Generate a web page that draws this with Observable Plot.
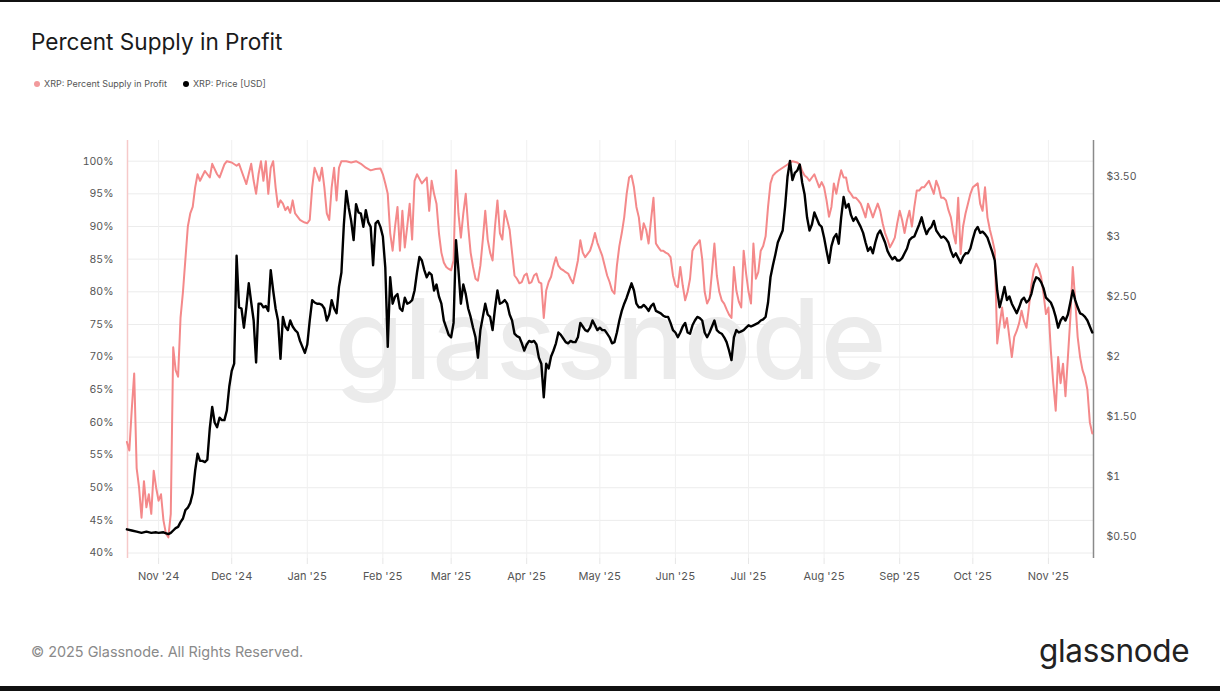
<!DOCTYPE html>
<html>
<head>
<meta charset="utf-8">
<script src="https://cdn.jsdelivr.net/npm/d3@7"></script>
<script src="https://cdn.jsdelivr.net/npm/@observablehq/plot@0.6"></script>
<style>
  html, body { margin: 0; padding: 0; background: #fff; }
  #wrap { position: relative; width: 1220px; height: 691px; overflow: hidden; font-family: Inter, Roboto, "Noto Sans", sans-serif; }
  #topbar { position: absolute; left: 0; top: 0; width: 1220px; height: 2px; background: #111; }
  #botbar { position: absolute; left: 0; bottom: 0; width: 1220px; height: 5px; background: #111; }
  #title { position: absolute; left: 31px; top: 28px; font-size: 22.6px; color: #1a1a1a; font-weight: 400; letter-spacing: 0; }
  #legend { position: absolute; left: 34px; top: 78px; font-size: 9px; color: #555; display: flex; gap: 16px; }
  #legend span.item { display: flex; align-items: center; gap: 4px; }
  #legend i { display: inline-block; width: 6px; height: 6px; border-radius: 50%; }
  #chart { position: absolute; left: 0; top: 120px; }
  #footer { position: absolute; left: 31px; top: 643px; font-size: 14.4px; color: #8a8a8a; }
  #logo { position: absolute; left: 1039px; top: 631px; font-size: 31.5px; color: #222; font-weight: 400; letter-spacing: -0.3px; }
</style>
</head>
<body>
<div id="wrap">
  <div id="topbar"></div>
  <div id="title">Percent Supply in Profit</div>
  <div id="legend"></div>
  <div id="chart"></div>
  <div id="footer">© 2025 Glassnode. All Rights Reserved.</div>
  <div id="logo">glassnode</div>
  <div id="botbar"></div>
</div>
<script>
// ---- Series names & colours ----
const seriesNames = ["XRP: Percent Supply in Profit", "XRP: Price [USD]"];
const seriesColors = ["#f4898a", "#000000"];

// ---- XRP: Percent Supply in Profit (%) ----
const pctData = [
["2024-10-19",57],["2024-10-20",55.7],["2024-10-21",62],["2024-10-22",67.5],["2024-10-23",53],["2024-10-24",50],["2024-10-25",45.4],["2024-10-26",51],["2024-10-27",47],["2024-10-28",49],["2024-10-29",46],["2024-10-30",52.6],["2024-10-31",50],
["2024-11-01",48],["2024-11-02",49],["2024-11-03",45],["2024-11-04",43],["2024-11-05",42.4],["2024-11-06",46],["2024-11-07",71.5],["2024-11-08",68],["2024-11-09",67],["2024-11-10",76],["2024-11-11",80],["2024-11-12",85],["2024-11-13",90],["2024-11-14",92],["2024-11-15",93],["2024-11-16",96],["2024-11-17",98],["2024-11-18",97],["2024-11-20",98.5],["2024-11-22",97.5],["2024-11-23",99.6],["2024-11-25",98],["2024-11-26",97.5],["2024-11-28",99.5],["2024-11-29",100],
["2024-12-01",99.8],["2024-12-03",99.3],["2024-12-04",99.6],["2024-12-06",97.5],["2024-12-07",96.5],["2024-12-09",99.6],["2024-12-10",97],["2024-12-11",95],["2024-12-12",98],["2024-12-13",100],["2024-12-14",97],["2024-12-15",100],["2024-12-16",95],["2024-12-17",99],["2024-12-18",100],["2024-12-19",96],["2024-12-20",93],["2024-12-21",94],["2024-12-22",93.5],["2024-12-23",92.5],["2024-12-24",93],["2024-12-25",92.1],["2024-12-26",94],["2024-12-27",92],["2024-12-28",91.5],["2024-12-29",91],["2024-12-30",90.8],["2024-12-31",90.6],
["2025-01-01",90.5],["2025-01-02",91],["2025-01-03",96],["2025-01-04",99],["2025-01-05",98],["2025-01-06",97],["2025-01-07",99],["2025-01-08",96],["2025-01-09",92],["2025-01-10",91],["2025-01-11",96],["2025-01-12",99],["2025-01-13",94],["2025-01-14",99],["2025-01-15",100],["2025-01-17",100],["2025-01-19",99.8],["2025-01-21",100],["2025-01-23",99.6],["2025-01-25",99],["2025-01-27",98.6],["2025-01-29",98.8],["2025-01-31",98.9],
["2025-02-01",98],["2025-02-02",96.6],["2025-02-03",95],["2025-02-04",89],["2025-02-05",86.3],["2025-02-06",90],["2025-02-07",93],["2025-02-08",86.3],["2025-02-09",92.4],["2025-02-10",86.8],["2025-02-11",90],["2025-02-12",93.5],["2025-02-13",88],["2025-02-14",97],["2025-02-15",98],["2025-02-17",96.6],["2025-02-19",97.5],["2025-02-20",92.4],["2025-02-21",97],["2025-02-22",95],["2025-02-23",93.5],["2025-02-24",89],["2025-02-25",86],["2025-02-26",84.5],["2025-02-27",83.8],["2025-02-28",83.5],
["2025-03-01",83.3],["2025-03-02",84.8],["2025-03-03",98.6],["2025-03-04",92],["2025-03-05",88.3],["2025-03-06",92],["2025-03-07",95],["2025-03-08",90],["2025-03-09",86],["2025-03-10",83.8],["2025-03-11",82],["2025-03-12",81.7],["2025-03-13",84],["2025-03-14",88],["2025-03-15",92.4],["2025-03-16",88],["2025-03-17",86],["2025-03-18",84.8],["2025-03-19",90],["2025-03-20",94],["2025-03-21",89],["2025-03-22",88],["2025-03-23",92.4],["2025-03-24",91],["2025-03-25",89.5],["2025-03-26",86],["2025-03-27",82.5],["2025-03-28",82],["2025-03-29",81.3],["2025-03-30",81.5],["2025-03-31",82.5],
["2025-04-01",82.8],["2025-04-02",81.3],["2025-04-03",81.5],["2025-04-04",82.5],["2025-04-05",82.8],["2025-04-06",81.5],["2025-04-07",81.3],["2025-04-08",76],["2025-04-09",80.2],["2025-04-10",81.5],["2025-04-11",82.3],["2025-04-12",84],["2025-04-13",85.3],["2025-04-14",84],["2025-04-15",83.5],["2025-04-16",83.3],["2025-04-17",83],["2025-04-18",82.8],["2025-04-19",82],["2025-04-20",81.3],["2025-04-21",83],["2025-04-22",84.8],["2025-04-23",87.9],["2025-04-24",86],["2025-04-25",85.3],["2025-04-26",85.8],["2025-04-27",86.3],["2025-04-28",87.5],["2025-04-29",89],["2025-04-30",87.5],
["2025-05-01",86.5],["2025-05-02",85.5],["2025-05-03",84],["2025-05-04",82.5],["2025-05-05",81.5],["2025-05-06",80.2],["2025-05-07",79.7],["2025-05-08",84],["2025-05-09",87],["2025-05-10",89],["2025-05-11",91.4],["2025-05-12",95],["2025-05-13",97.5],["2025-05-14",97.8],["2025-05-15",96],["2025-05-16",93],["2025-05-17",91.4],["2025-05-18",88],["2025-05-19",90.5],["2025-05-20",89.5],["2025-05-21",87.4],["2025-05-22",91],["2025-05-23",94.4],["2025-05-24",87.4],["2025-05-25",86.8],["2025-05-26",86.3],["2025-05-27",86.3],["2025-05-28",86],["2025-05-29",85.8],["2025-05-30",85.3],["2025-05-31",82.5],
["2025-06-01",81],["2025-06-02",80.7],["2025-06-03",83.8],["2025-06-04",81],["2025-06-05",78.7],["2025-06-06",80],["2025-06-07",82],["2025-06-08",86.3],["2025-06-09",87],["2025-06-10",87.4],["2025-06-11",87.9],["2025-06-12",85],["2025-06-13",80],["2025-06-14",78.2],["2025-06-15",79],["2025-06-16",83],["2025-06-17",87.4],["2025-06-18",82.5],["2025-06-19",80],["2025-06-20",78.7],["2025-06-21",78.2],["2025-06-22",77.3],["2025-06-23",76.5],["2025-06-24",76],["2025-06-25",83.8],["2025-06-26",80.2],["2025-06-27",78.5],["2025-06-28",77.6],["2025-06-29",86.3],["2025-06-30",82.8],
["2025-07-01",80],["2025-07-02",78.2],["2025-07-03",87.4],["2025-07-04",82],["2025-07-05",83],["2025-07-06",86.3],["2025-07-07",87],["2025-07-08",88.5],["2025-07-09",93],["2025-07-10",96.6],["2025-07-11",97.8],["2025-07-12",98.2],["2025-07-13",98.5],["2025-07-15",99],["2025-07-17",99.5],["2025-07-18",99.8],["2025-07-19",100],["2025-07-21",99.8],["2025-07-22",99.5],["2025-07-23",98.5],["2025-07-24",97.8],["2025-07-25",97.5],["2025-07-26",97],["2025-07-27",97.5],["2025-07-28",98],["2025-07-29",97],["2025-07-30",96],["2025-07-31",96.8],
["2025-08-01",96],["2025-08-02",94],["2025-08-03",91.5],["2025-08-04",93],["2025-08-05",96.6],["2025-08-06",95],["2025-08-07",97],["2025-08-08",98.6],["2025-08-09",97.5],["2025-08-10",97.5],["2025-08-11",95.5],["2025-08-12",95],["2025-08-13",94.4],["2025-08-14",94.4],["2025-08-15",94],["2025-08-16",93.5],["2025-08-17",92.5],["2025-08-18",91.4],["2025-08-19",93.5],["2025-08-20",92.5],["2025-08-21",91.4],["2025-08-22",92.5],["2025-08-23",93.5],["2025-08-24",92.4],["2025-08-25",90.5],["2025-08-26",89],["2025-08-27",88],["2025-08-28",86.8],["2025-08-29",87.5],["2025-08-30",88.3],["2025-08-31",90.5],
["2025-09-01",92.4],["2025-09-02",91],["2025-09-03",89],["2025-09-04",91],["2025-09-05",92.4],["2025-09-06",90],["2025-09-07",93],["2025-09-08",95.5],["2025-09-09",95.5],["2025-09-10",96],["2025-09-11",96],["2025-09-12",96.5],["2025-09-13",97],["2025-09-14",96],["2025-09-15",95],["2025-09-16",97],["2025-09-17",96],["2025-09-18",94.4],["2025-09-19",94.4],["2025-09-20",94],["2025-09-21",92.5],["2025-09-22",91.4],["2025-09-23",89],["2025-09-24",87.4],["2025-09-25",94.4],["2025-09-26",85.8],["2025-09-27",90],["2025-09-28",92],["2025-09-29",93.5],["2025-09-30",95],
["2025-10-01",96],["2025-10-02",96.3],["2025-10-03",96.6],["2025-10-04",93.5],["2025-10-05",92.4],["2025-10-06",96],["2025-10-07",91.4],["2025-10-08",89.5],["2025-10-09",88],["2025-10-10",86.3],["2025-10-11",72.1],["2025-10-12",75],["2025-10-13",77.6],["2025-10-14",74.5],["2025-10-15",76],["2025-10-16",73],["2025-10-17",70],["2025-10-18",73.1],["2025-10-19",74],["2025-10-20",75.2],["2025-10-21",77.1],["2025-10-22",75.5],["2025-10-23",74.5],["2025-10-24",77.6],["2025-10-25",81],["2025-10-26",83.3],["2025-10-27",84.3],["2025-10-28",83.5],["2025-10-29",82.3],["2025-10-30",79.7],["2025-10-31",76.6],
["2025-11-01",77.6],["2025-11-02",71],["2025-11-03",66],["2025-11-04",61.8],["2025-11-05",70],["2025-11-06",66],["2025-11-07",69],["2025-11-08",64],["2025-11-09",70],["2025-11-10",76],["2025-11-11",83.8],["2025-11-12",78.7],["2025-11-13",73.1],["2025-11-14",70],["2025-11-15",68],["2025-11-16",66.9],["2025-11-17",65],["2025-11-18",60],["2025-11-19",58.3]
];

// ---- XRP: Price [USD] ----
const priceData = [
["2024-10-19",0.56],["2024-10-21",0.55],["2024-10-23",0.54],["2024-10-25",0.53],["2024-10-27",0.54],["2024-10-29",0.53],["2024-10-31",0.535],
["2024-11-01",0.53],["2024-11-03",0.535],["2024-11-05",0.52],["2024-11-06",0.53],["2024-11-07",0.55],["2024-11-08",0.57],["2024-11-09",0.58],["2024-11-10",0.62],["2024-11-11",0.65],["2024-11-12",0.72],["2024-11-13",0.74],["2024-11-14",0.78],["2024-11-15",0.86],["2024-11-16",1.05],["2024-11-17",1.19],["2024-11-18",1.13],["2024-11-19",1.13],["2024-11-20",1.12],["2024-11-21",1.14],["2024-11-22",1.4],["2024-11-23",1.58],["2024-11-24",1.45],["2024-11-25",1.41],["2024-11-26",1.49],["2024-11-27",1.47],["2024-11-28",1.47],["2024-11-29",1.55],["2024-11-30",1.75],
["2024-12-01",1.88],["2024-12-02",1.94],["2024-12-03",2.84],["2024-12-04",2.41],["2024-12-05",2.4],["2024-12-06",2.24],["2024-12-07",2.41],["2024-12-08",2.61],["2024-12-09",2.45],["2024-12-10",2.3],["2024-12-11",1.95],["2024-12-12",2.44],["2024-12-13",2.44],["2024-12-14",2.41],["2024-12-15",2.42],["2024-12-16",2.38],["2024-12-17",2.72],["2024-12-18",2.55],["2024-12-19",2.4],["2024-12-20",2.3],["2024-12-21",1.98],["2024-12-22",2.33],["2024-12-23",2.25],["2024-12-24",2.22],["2024-12-25",2.3],["2024-12-26",2.25],["2024-12-27",2.22],["2024-12-28",2.2],["2024-12-29",2.13],["2024-12-30",2.08],["2024-12-31",2.03],
["2025-01-01",2.1],["2025-01-02",2.3],["2025-01-03",2.47],["2025-01-04",2.45],["2025-01-05",2.44],["2025-01-06",2.44],["2025-01-07",2.43],["2025-01-08",2.4],["2025-01-09",2.3],["2025-01-10",2.35],["2025-01-11",2.47],["2025-01-12",2.4],["2025-01-13",2.36],["2025-01-14",2.58],["2025-01-15",2.7],["2025-01-16",3.1],["2025-01-17",3.38],["2025-01-18",3.24],["2025-01-19",3.13],["2025-01-20",2.97],["2025-01-21",3.27],["2025-01-22",3.2],["2025-01-23",3.19],["2025-01-24",3.08],["2025-01-25",3.22],["2025-01-26",3.12],["2025-01-27",3.08],["2025-01-28",2.76],["2025-01-29",3.11],["2025-01-30",3.13],["2025-01-31",3.08],
["2025-02-01",3.0],["2025-02-02",2.74],["2025-02-03",2.08],["2025-02-04",2.66],["2025-02-05",2.44],["2025-02-06",2.5],["2025-02-07",2.52],["2025-02-08",2.4],["2025-02-09",2.38],["2025-02-10",2.49],["2025-02-11",2.44],["2025-02-12",2.45],["2025-02-13",2.47],["2025-02-14",2.55],["2025-02-15",2.7],["2025-02-16",2.83],["2025-02-17",2.8],["2025-02-18",2.72],["2025-02-19",2.66],["2025-02-20",2.7],["2025-02-21",2.68],["2025-02-22",2.55],["2025-02-23",2.6],["2025-02-24",2.5],["2025-02-25",2.44],["2025-02-26",2.3],["2025-02-27",2.24],["2025-02-28",2.18],
["2025-03-01",2.16],["2025-03-02",2.28],["2025-03-03",2.97],["2025-03-04",2.72],["2025-03-05",2.44],["2025-03-06",2.6],["2025-03-07",2.52],["2025-03-08",2.4],["2025-03-09",2.33],["2025-03-10",2.24],["2025-03-11",2.16],["2025-03-12",1.99],["2025-03-13",2.22],["2025-03-14",2.33],["2025-03-15",2.44],["2025-03-16",2.35],["2025-03-17",2.33],["2025-03-18",2.22],["2025-03-19",2.4],["2025-03-20",2.55],["2025-03-21",2.44],["2025-03-22",2.45],["2025-03-23",2.47],["2025-03-24",2.44],["2025-03-25",2.35],["2025-03-26",2.3],["2025-03-27",2.19],["2025-03-28",2.17],["2025-03-29",2.16],["2025-03-30",2.11],["2025-03-31",2.05],
["2025-04-01",2.1],["2025-04-02",2.13],["2025-04-03",2.12],["2025-04-04",2.13],["2025-04-05",2.1],["2025-04-06",1.99],["2025-04-07",1.94],["2025-04-08",1.66],["2025-04-09",1.94],["2025-04-10",1.9],["2025-04-11",2.0],["2025-04-12",2.05],["2025-04-13",2.11],["2025-04-14",2.2],["2025-04-15",2.18],["2025-04-16",2.15],["2025-04-17",2.12],["2025-04-18",2.11],["2025-04-19",2.13],["2025-04-20",2.12],["2025-04-21",2.12],["2025-04-22",2.16],["2025-04-23",2.28],["2025-04-24",2.25],["2025-04-25",2.22],["2025-04-26",2.21],["2025-04-27",2.24],["2025-04-28",2.3],["2025-04-29",2.26],["2025-04-30",2.22],
["2025-05-01",2.24],["2025-05-02",2.22],["2025-05-03",2.22],["2025-05-04",2.19],["2025-05-05",2.16],["2025-05-06",2.11],["2025-05-07",2.12],["2025-05-08",2.2],["2025-05-09",2.3],["2025-05-10",2.38],["2025-05-11",2.44],["2025-05-12",2.49],["2025-05-13",2.55],["2025-05-14",2.61],["2025-05-15",2.55],["2025-05-16",2.44],["2025-05-17",2.41],["2025-05-18",2.41],["2025-05-19",2.43],["2025-05-20",2.41],["2025-05-21",2.38],["2025-05-22",2.42],["2025-05-23",2.44],["2025-05-24",2.38],["2025-05-25",2.37],["2025-05-26",2.36],["2025-05-27",2.34],["2025-05-28",2.33],["2025-05-29",2.33],["2025-05-30",2.28],["2025-05-31",2.22],
["2025-06-01",2.2],["2025-06-02",2.16],["2025-06-03",2.2],["2025-06-04",2.25],["2025-06-05",2.28],["2025-06-06",2.2],["2025-06-07",2.19],["2025-06-08",2.26],["2025-06-09",2.3],["2025-06-10",2.33],["2025-06-11",2.32],["2025-06-12",2.3],["2025-06-13",2.2],["2025-06-14",2.16],["2025-06-15",2.2],["2025-06-16",2.25],["2025-06-17",2.3],["2025-06-18",2.22],["2025-06-19",2.2],["2025-06-20",2.19],["2025-06-21",2.16],["2025-06-22",2.12],["2025-06-23",2.05],["2025-06-24",1.97],["2025-06-25",2.16],["2025-06-26",2.22],["2025-06-27",2.2],["2025-06-28",2.21],["2025-06-29",2.22],["2025-06-30",2.24],
["2025-07-01",2.26],["2025-07-02",2.25],["2025-07-03",2.26],["2025-07-04",2.27],["2025-07-05",2.28],["2025-07-06",2.3],["2025-07-07",2.31],["2025-07-08",2.33],["2025-07-09",2.45],["2025-07-10",2.66],["2025-07-11",2.76],["2025-07-12",2.85],["2025-07-13",2.95],["2025-07-14",3.0],["2025-07-15",3.05],["2025-07-16",3.25],["2025-07-17",3.5],["2025-07-18",3.63],["2025-07-19",3.47],["2025-07-20",3.53],["2025-07-21",3.55],["2025-07-22",3.6],["2025-07-23",3.45],["2025-07-24",3.35],["2025-07-25",3.16],["2025-07-26",3.05],["2025-07-27",3.1],["2025-07-28",3.2],["2025-07-29",3.15],["2025-07-30",3.1],["2025-07-31",3.08],
["2025-08-01",2.99],["2025-08-02",2.88],["2025-08-03",2.78],["2025-08-04",2.92],["2025-08-05",2.99],["2025-08-06",3.02],["2025-08-07",2.94],["2025-08-08",3.16],["2025-08-09",3.33],["2025-08-10",3.24],["2025-08-11",3.27],["2025-08-12",3.18],["2025-08-13",3.13],["2025-08-14",3.16],["2025-08-15",3.12],["2025-08-16",3.08],["2025-08-17",3.03],["2025-08-18",2.95],["2025-08-19",2.88],["2025-08-20",2.91],["2025-08-21",2.86],["2025-08-22",2.95],["2025-08-23",3.02],["2025-08-24",3.05],["2025-08-25",3.0],["2025-08-26",2.95],["2025-08-27",2.88],["2025-08-28",2.84],["2025-08-29",2.81],["2025-08-30",2.83],["2025-08-31",2.8],
["2025-09-01",2.8],["2025-09-02",2.82],["2025-09-03",2.86],["2025-09-04",2.9],["2025-09-05",2.97],["2025-09-06",2.99],["2025-09-07",3.0],["2025-09-08",3.05],["2025-09-09",3.1],["2025-09-10",3.16],["2025-09-11",3.08],["2025-09-12",3.02],["2025-09-13",3.06],["2025-09-14",3.08],["2025-09-15",3.13],["2025-09-16",3.05],["2025-09-17",3.02],["2025-09-18",2.99],["2025-09-19",3.0],["2025-09-20",2.98],["2025-09-21",2.95],["2025-09-22",2.88],["2025-09-23",2.83],["2025-09-24",2.86],["2025-09-25",2.82],["2025-09-26",2.78],["2025-09-27",2.83],["2025-09-28",2.86],["2025-09-29",2.86],["2025-09-30",2.9],
["2025-10-01",2.98],["2025-10-02",3.05],["2025-10-03",3.08],["2025-10-04",3.03],["2025-10-05",3.04],["2025-10-06",3.02],["2025-10-07",2.99],["2025-10-08",2.93],["2025-10-09",2.87],["2025-10-10",2.8],["2025-10-11",2.55],["2025-10-12",2.41],["2025-10-13",2.49],["2025-10-14",2.58],["2025-10-15",2.47],["2025-10-16",2.5],["2025-10-17",2.44],["2025-10-18",2.4],["2025-10-19",2.36],["2025-10-20",2.41],["2025-10-21",2.47],["2025-10-22",2.49],["2025-10-23",2.45],["2025-10-24",2.47],["2025-10-25",2.52],["2025-10-26",2.61],["2025-10-27",2.66],["2025-10-28",2.65],["2025-10-29",2.62],["2025-10-30",2.57],["2025-10-31",2.49],
["2025-11-01",2.47],["2025-11-02",2.45],["2025-11-03",2.4],["2025-11-04",2.33],["2025-11-05",2.24],["2025-11-06",2.3],["2025-11-07",2.33],["2025-11-08",2.3],["2025-11-09",2.35],["2025-11-10",2.45],["2025-11-11",2.55],["2025-11-12",2.47],["2025-11-13",2.41],["2025-11-14",2.36],["2025-11-15",2.35],["2025-11-16",2.33],["2025-11-17",2.3],["2025-11-18",2.25],["2025-11-19",2.2]
];

// ---- Axis ticks ----
const pctTicks = [40,45,50,55,60,65,70,75,80,85,90,95,100];
const priceTicks = [0.5,1,1.5,2,2.5,3,3.5];
const priceLabels = ["$0.50","$1","$1.50","$2","$2.50","$3","$3.50"];
const xDomain = [new Date("2024-10-19T06:00:00Z"), new Date("2025-11-19T12:00:00Z")];
const pctDomain = [39.16, 103.17];
const priceDomain = [0.3167, 3.8];

// map price onto the percent (left) scale for the shared y
const toPct = p => pctDomain[0] + (p - priceDomain[0]) / (priceDomain[1] - priceDomain[0]) * (pctDomain[1] - pctDomain[0]);

const pct = pctData.map(([d, v]) => ({date: new Date(d), v}));
const price = priceData.map(([d, v]) => ({date: new Date(d), v}));
const months = d3.utcMonth.range(new Date("2024-11-01T00:00:00Z"), new Date("2025-11-02T00:00:00Z"));
const fmtMonth = d3.utcFormat("%b '%y");

// legend
const legend = document.getElementById("legend");
seriesNames.forEach((n, i) => {
  const s = document.createElement("span");
  s.className = "item";
  s.innerHTML = `<i style="background:${i === 1 ? "#000" : "#f29a9c"}"></i>${n}`;
  legend.appendChild(s);
});

const chart = Plot.plot({
  width: 1220,
  height: 480,
  marginTop: 20,
  marginBottom: 42,
  marginLeft: 127,
  marginRight: 127,
  style: {fontFamily: "Inter, Roboto, 'Noto Sans', sans-serif", fontSize: "10.5px", color: "#555", background: "transparent"},
  x: {type: "utc", domain: xDomain},
  y: {domain: pctDomain},
  marks: [
    Plot.gridY(pctTicks, {stroke: "#ececec", strokeOpacity: 1}),
    Plot.gridX(months, {stroke: "#f0f0f0", strokeOpacity: 1}),
    Plot.text(["glassnode"], {frameAnchor: "middle", fontSize: 112, fontWeight: 500, fill: "#ebebeb", dy: -6}),
    Plot.ruleX([xDomain[0]], {stroke: "#f6c9c9", strokeWidth: 1.5}),
    Plot.ruleX([xDomain[1]], {stroke: "#8a8a8a", strokeWidth: 1.5}),
    Plot.axisY(pctTicks, {anchor: "left", tickSize: 0, tickPadding: 14, tickFormat: d => d + "%", label: null, fontSize: 10.5, fill: "#555"}),
    Plot.axisY(priceTicks.map(toPct), {anchor: "right", tickSize: 0, tickPadding: 13, tickFormat: (d, i) => priceLabels[i], label: null, fontSize: 10.5, fill: "#555"}),
    Plot.axisX(months, {tickSize: 6, tickPadding: 8, stroke: "#e6e6e6", tickFormat: fmtMonth, label: null, fontSize: 11, fill: "#555"}),
    Plot.lineY(pct, {x: "date", y: "v", stroke: seriesColors[0], strokeWidth: 2, curve: "linear", strokeLinejoin: "round"}),
    Plot.lineY(price, {x: "date", y: d => toPct(d.v), stroke: seriesColors[1], strokeWidth: 2.4, curve: "linear", strokeLinejoin: "round"})
  ]
});
document.getElementById("chart").appendChild(chart);
</script>
</body>
</html>
